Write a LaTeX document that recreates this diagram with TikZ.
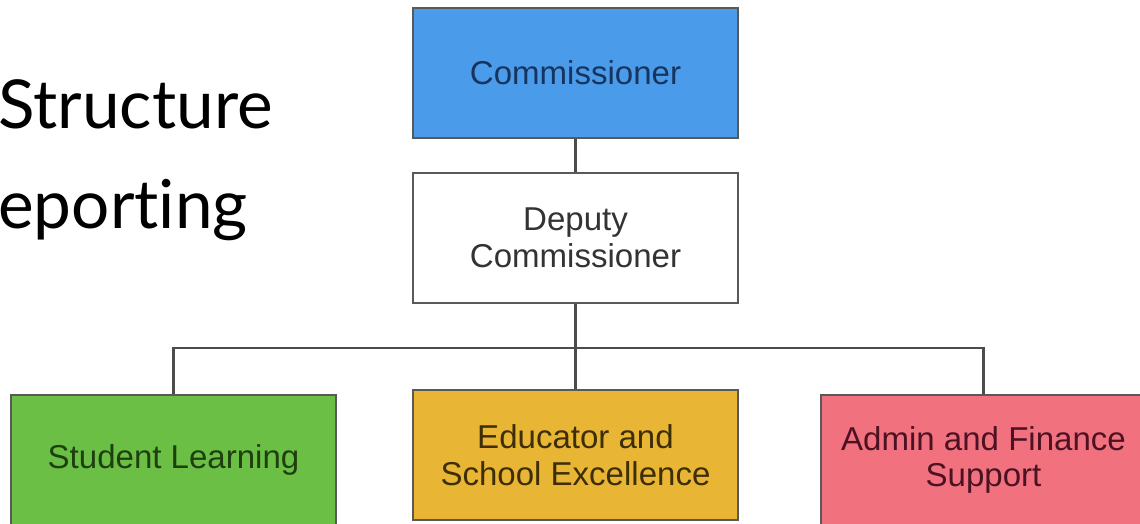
\documentclass[tikz,border=0pt]{standalone}
\usepackage{fontspec}
\setmainfont{Liberation Sans}
\newfontfamily\titlefont[Ligatures=NoCommon]{Lato}
\usetikzlibrary{positioning, calc}
\definecolor{commblue}{HTML}{4A9CEB}
\definecolor{commtext}{HTML}{17345E}
\definecolor{learngreen}{HTML}{6CBF45}
\definecolor{learntext}{HTML}{1E3F10}
\definecolor{eduyellow}{HTML}{E9B535}
\definecolor{edutext}{HTML}{3D2E05}
\definecolor{finpink}{HTML}{F2717F}
\definecolor{fintext}{HTML}{4A1222}

\begin{document}
\begin{tikzpicture}[
    unit/.style={draw=black!65, line width=1.9pt, minimum width=8.125cm, minimum height=3.25cm, align=center, font=\fontsize{23.5}{26}\selectfont},
    link/.style={draw=black!70, line width=1.6pt},
    heading/.style={anchor=base west, inner sep=0pt, font=\titlefont\fontsize{48}{55}\selectfont}
]

% Page frame - the picture is cut at the right and bottom
\useasboundingbox (0,0) rectangle (28.5,-13.075);
\clip (0,0) rectangle (28.5,-13.075);

% Title lines, cut at the left edge
\node[heading] (title1) at (-0.05,-3.2) {Structure};
\node[heading] (title2) at (-0.05,-5.7) {eporting};

% Origin point - top of the chart
\coordinate (origin) at (14.3875,-1.825);

% Commissioner
\node[unit, fill=commblue, text=commtext] (commish) at (origin) {Commissioner};

% Deputy Commissioner - below commissioner
\node[unit, fill=white, text=black!80] (deputy) at ([yshift=-4.125cm]commish) {Deputy\\Commissioner};

% Offices - bottom row
\node[unit, fill=eduyellow, text=edutext] (educator) at ([yshift=-5.425cm]deputy) {Educator and\\School Excellence};
\node[unit, fill=learngreen, text=learntext] (learning) at ([xshift=-10.05cm, yshift=-0.125cm]educator) {Student Learning};
\node[unit, fill=finpink, text=fintext] (finance) at ([xshift=10.2cm, yshift=-0.125cm]educator) {Admin and Finance\\Support};

% Connections
\draw[link] (commish.south) -- (deputy.north);
\coordinate (bus) at ([yshift=-1.1cm]deputy.south);
\draw[link] (deputy.south) -- (educator.north);
\draw[link] (learning.north) |- (bus) -| (finance.north);

\end{tikzpicture}
\end{document}
